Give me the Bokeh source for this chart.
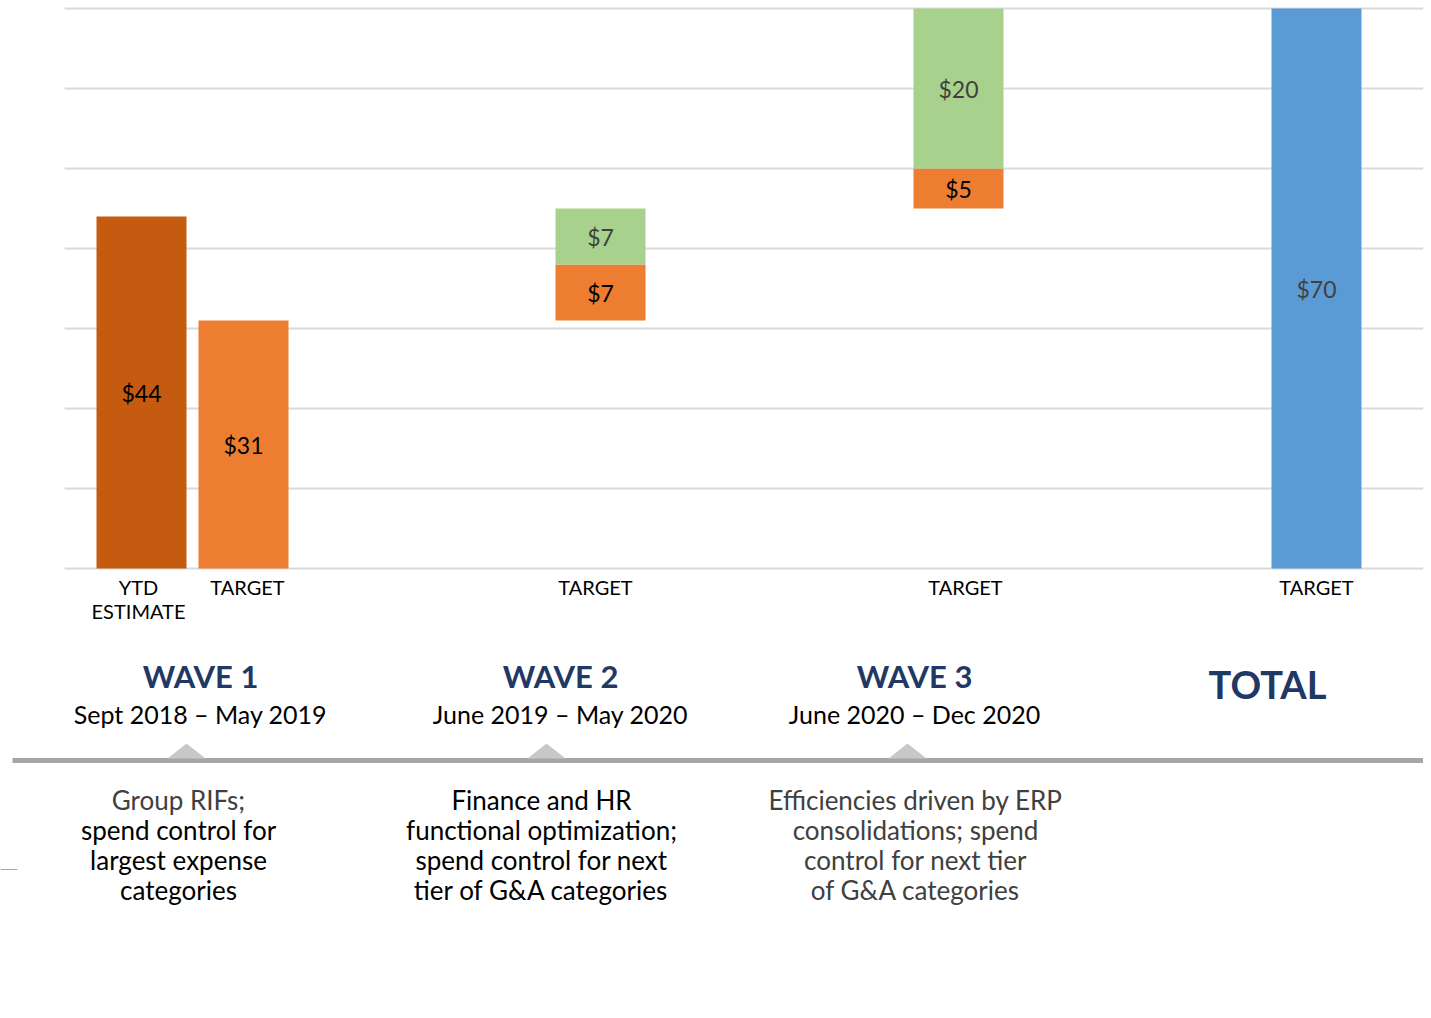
from bokeh.plotting import figure
from bokeh.models import Range1d, ColumnDataSource
from bokeh.core.properties import value
from bokeh.embed import file_html
from bokeh.resources import INLINE

# ---------------- data ----------------
ytd_estimate = 44
target_base = [31, 7, 5]      # orange part of wave 1, 2, 3 targets
target_stretch = [0, 7, 20]   # green part of wave 1, 2, 3 targets
total_target = 70
grid_values = [0, 10, 20, 30, 40, 50, 60, 70]

bar_labels = [["YTD", "ESTIMATE"], ["TARGET"], ["TARGET"], ["TARGET"], ["TARGET"]]
wave_titles = ["WAVE 1", "WAVE 2", "WAVE 3"]
wave_dates = ["Sept 2018 \u2013 May 2019", "June 2019 \u2013 May 2020", "June 2020 \u2013 Dec 2020"]
wave_desc = [
    ["Group RIFs;", "spend control for", "largest expense", "categories"],
    ["Finance and HR", "functional optimization;", "spend control for next", "tier of G&A categories"],
    ["Efficiencies driven by ERP", "consolidations; spend", "control for next tier", "of G&A categories"],
]
total_title = "TOTAL"

# ---------------- layout ----------------
W, H = 1423, 1010
PX_PER_UNIT = 8.0
Y_TOP = 70
def Y(py):
    return Y_TOP - (py - 8) / PX_PER_UNIT

FONT = value("Lato")
C_DARK = "#C55A11"
C_ORANGE = "#ED7D31"
C_GREEN = "#A9D18E"
C_BLUE = "#5B9BD5"
C_NAVY = "#1F3864"
C_GRID = "#D9D9D9"
C_LBL_DARK = "#404040"

bar_x = [141, 243, 600, 958, 1316]
bar_w = 90

p = figure(width=W, height=H, output_backend="svg", toolbar_location=None,
           x_range=Range1d(0, W), y_range=Range1d(Y(H), Y(0)),
           min_border=0)
p.axis.visible = False
p.grid.visible = False
p.outline_line_color = None
p.background_fill_color = "white"
p.border_fill_color = "white"

# gridlines
p.segment(x0=[64] * len(grid_values), x1=[1431] * len(grid_values),
          y0=grid_values, y1=grid_values, line_color=C_GRID, line_width=2)

# bars: build bottoms/tops through cumulative sums
xs, bottoms, tops, colors, lbls, lbl_colors = [], [], [], [], [], []
xs.append(bar_x[0]); bottoms.append(0); tops.append(ytd_estimate); colors.append(C_DARK)
lbls.append(f"${ytd_estimate}"); lbl_colors.append("black")
cum = 0
for i in range(3):
    b = target_base[i]
    s = target_stretch[i]
    xs.append(bar_x[i + 1]); bottoms.append(cum); tops.append(cum + b); colors.append(C_ORANGE)
    lbls.append(f"${b}"); lbl_colors.append("black")
    cum += b
    if s:
        xs.append(bar_x[i + 1]); bottoms.append(cum); tops.append(cum + s); colors.append(C_GREEN)
        lbls.append(f"${s}"); lbl_colors.append(C_LBL_DARK)
        cum += s
xs.append(bar_x[4]); bottoms.append(0); tops.append(total_target); colors.append(C_BLUE)
lbls.append(f"${total_target}"); lbl_colors.append(C_LBL_DARK)

src = ColumnDataSource(dict(x=xs, bottom=bottoms, top=tops, color=colors,
                            mid=[(b + t) / 2 for b, t in zip(bottoms, tops)],
                            lbl=lbls, lc=lbl_colors))
p.vbar(x="x", bottom="bottom", top="top", width=bar_w, fill_color="color",
       line_color=None, source=src)
p.text(x="x", y="mid", text="lbl", text_color="lc", source=src, text_font=FONT,
       text_font_size="23px", text_align="center", text_baseline="middle")

# category labels under bars
cat_x = [138, 247, 595, 965, 1316]
for cx, lines in zip(cat_x, bar_labels):
    for j, t in enumerate(lines):
        p.text(x=[cx], y=[Y(586 + 24 * j)], text=[t], text_font=FONT, text_font_size="20px",
               text_color="black", text_align="center", text_baseline="middle")

# wave titles & dates
wave_x = [200, 560, 914]
for wx, t, d in zip(wave_x, wave_titles, wave_dates):
    p.text(x=[wx], y=[Y(675)], text=[t], text_font=FONT, text_font_size="31px",
           text_font_style="bold", text_color=C_NAVY, text_align="center", text_baseline="middle")
    p.text(x=[wx], y=[Y(713)], text=[d], text_font=FONT, text_font_size="25px",
           text_color="black", text_align="center", text_baseline="middle")
p.text(x=[1267], y=[Y(683)], text=[total_title], text_font=FONT, text_font_size="38px",
       text_font_style="bold", text_color=C_NAVY, text_align="center", text_baseline="middle")

# timeline
p.segment(x0=[12], x1=[1431], y0=[Y(760)], y1=[Y(760)], line_color="#A6A6A6", line_width=5)
tri_x = [186, 546, 907]
p.patches(xs=[[tx - 19, tx, tx + 19] for tx in tri_x],
          ys=[[Y(758), Y(743), Y(758)] for _ in tri_x],
          fill_color="#C8C8C8", line_color=None)
p.segment(x0=[0], x1=[17], y0=[Y(869)], y1=[Y(869)], line_color="#A6A6A6", line_width=1)

# descriptions
desc_x = [178, 541, 915]
desc_colors = [[C_LBL_DARK, "black", "black", "black"],
               ["black"] * 4,
               [C_LBL_DARK] * 4]
for dx, lines, cols in zip(desc_x, wave_desc, desc_colors):
    for j, (t, c) in enumerate(zip(lines, cols)):
        p.text(x=[dx], y=[Y(799 + 30.3 * j)], text=[t], text_font=FONT, text_font_size="26px",
               text_color=c, text_align="center", text_baseline="middle")

open("out.html", "w").write(file_html(p, INLINE))
